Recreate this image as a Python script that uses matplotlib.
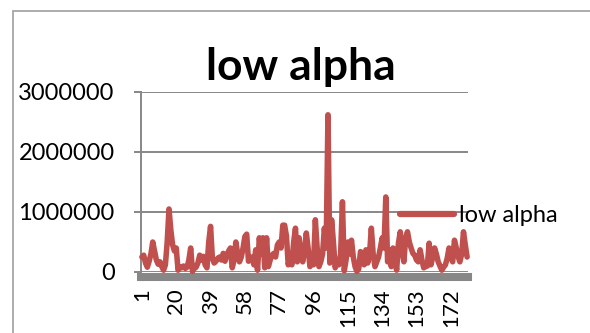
import matplotlib
matplotlib.use("Agg")
import matplotlib.pyplot as plt
from matplotlib.patches import Rectangle
import numpy as np

# values in thousands (categories 1..181)
low_alpha_k = [
    250, 280, 150, 80, 180, 300, 500, 350, 200, 130,
    170, 90, 30, 120, 500, 1050, 700, 450, 350, 400,
    30, 90, 70, 100, 60, 80, 200, 400, 10, 60,
    80, 150, 280, 200, 260, 120, 70, 500, 760, 230,
    150, 180, 230, 250, 200, 310, 180, 280, 350, 400,
    70, 200, 500, 300, 170, 250, 400, 590, 630, 180,
    200, 250, 120, 370, 30, 570, 300, 570, 70, 570,
    90, 200, 280, 310, 250, 450, 500, 400, 780, 780,
    600, 120, 250, 120, 500, 730, 170, 570, 300, 170,
    350, 650, 400, 90, 200, 120, 870, 400, 90, 170,
    300, 730, 400, 2620, 150, 870, 500, 70, 200, 120,
    300, 1170, 20, 200, 500, 300, 530, 250, 90, 10,
    50, 340, 310, 120, 370, 150, 300, 730, 300, 90,
    170, 250, 400, 570, 400, 1250, 170, 370, 90, 400,
    200, 30, 480, 670, 350, 170, 570, 670, 500, 400,
    310, 280, 200, 170, 370, 200, 70, 90, 100, 480,
    120, 250, 400, 300, 170, 100, 30, 80, 120, 230,
    400, 250, 170, 530, 400, 260, 170, 300, 670, 450,
    250,
]
low_alpha = [v * 1000 for v in low_alpha_k]
categories = list(range(1, len(low_alpha) + 1))
tick_labels = [str(c) for c in categories[::19]]
y_ticks = [0, 1000000, 2000000, 3000000]

FONT = ["Lato", "DejaVu Sans"]
GRAY = "#878787"
RED = "#C0504D"

fig = plt.figure(figsize=(5.9, 3.33), dpi=100)
ax = fig.add_axes([141 / 590, 61 / 333, 327 / 590, 180 / 333])

ax.plot(categories, low_alpha, color=RED, lw=4.0, solid_joinstyle="round",
        solid_capstyle="round", label="low alpha", zorder=3, clip_on=False)

ax.set_xlim(0.5, len(categories) + 0.5)
ax.set_ylim(0, 3000000)
ax.set_yticks(y_ticks)
ax.set_yticklabels([str(v) for v in y_ticks])
ax.set_xticks(categories[::19])
ax.set_xticklabels(tick_labels)

ax.grid(axis="y", color=GRAY, lw=1.4, zorder=1)
ax.set_axisbelow(True)
for s in ["top", "right"]:
    ax.spines[s].set_visible(False)
ax.spines["left"].set_color(GRAY)
ax.spines["left"].set_linewidth(1.4)
ax.spines["bottom"].set_color(GRAY)
ax.spines["bottom"].set_linewidth(5.8)
ax.spines["bottom"].set_position(("outward", 3.6))
ax.spines["bottom"].set_zorder(2)
ax.tick_params(axis="y", length=5, width=1.4, color=GRAY, pad=14, labelsize=17)
ax.tick_params(axis="x", length=0, pad=8, labelsize=16, labelrotation=90)
for lbl in ax.get_xticklabels() + ax.get_yticklabels():
    lbl.set_family(FONT)

leg = ax.legend(loc="center left", bbox_to_anchor=(400 / 590, (333 - 216) / 333),
                bbox_transform=fig.transFigure, frameon=False, handlelength=2.3,
                handletextpad=0.2, borderpad=0, borderaxespad=0,
                prop={"family": FONT, "size": 17})
for h in leg.get_lines():
    h.set_linewidth(4.5)

fig.text(301 / 590, (333 - 67) / 333, "low alpha", family=FONT, weight="bold",
         fontsize=32, ha="center", va="center")

# chart area border
fig.patches.append(Rectangle((13 / 590, -0.1), 1.1, (333 - 11) / 333 + 0.1,
                             transform=fig.transFigure, fill=False,
                             edgecolor="#A6A6A6", lw=1.3))

fig.savefig("out.png", dpi=100)
